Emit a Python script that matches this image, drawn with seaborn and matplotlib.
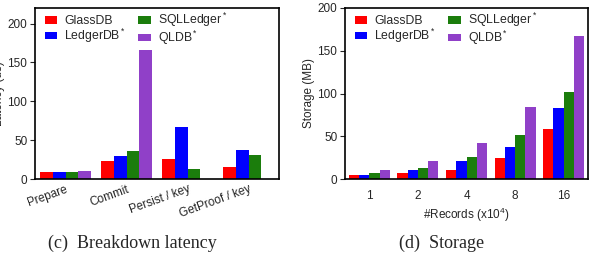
import numpy as np
import pandas as pd
import matplotlib
matplotlib.use("Agg")
import matplotlib.pyplot as plt
import seaborn as sns

# data
systems = ["GlassDB", "LedgerDB", "SQLLedger", "QLDB"]
legend_labels = ["GlassDB", r"LedgerDB$^*$", r"SQLLedger$^*$", r"QLDB$^*$"]
colors = ["#ff0000", "#0000ff", "#1b7d0c", "#9040c8"]

phases = ["Prepare", "Commit", "Persist / key", "GetProof / key"]
lat_glassdb = [8.9, 23.7, 25.8, 15.6]
lat_ledgerdb = [9.2, 30.0, 66.5, 37.0]
lat_sqlledger = [9.5, 36.0, 13.0, 30.5]
lat_qldb = [10.0, 166.0, np.nan, np.nan]

records = ["1", "2", "4", "8", "16"]
sto_glassdb = [4.6, 7.3, 10.7, 24.2, 58.9]
sto_ledgerdb = [4.6, 10.7, 21.0, 38.0, 82.7]
sto_sqlledger = [7.3, 13.0, 25.7, 51.0, 101.6]
sto_qldb = [10.7, 21.5, 42.3, 83.8, 167.4]


def long_frame(cats, series, catname, valname):
    rows = []
    for name, vals in zip(systems, series):
        for c, v in zip(cats, vals):
            rows.append({catname: c, "system": name, valname: v})
    return pd.DataFrame(rows)


lat_df = long_frame(phases, [lat_glassdb, lat_ledgerdb, lat_sqlledger, lat_qldb],
                    "phase", "latency")
sto_df = long_frame(records, [sto_glassdb, sto_ledgerdb, sto_sqlledger, sto_qldb],
                    "records", "storage")

sns.set_style("ticks")
plt.rcParams["font.family"] = ["Liberation Sans", "DejaVu Sans"]
plt.rcParams["mathtext.fontset"] = "custom"
plt.rcParams["mathtext.rm"] = "Liberation Sans"
plt.rcParams["mathtext.it"] = "Liberation Sans"
plt.rcParams["font.size"] = 8.5

W, H = 594, 258
fig = plt.figure(figsize=(W / 100, H / 100), dpi=100)
ax1 = fig.add_axes([35 / W, 1 - 179 / H, 244 / W, 171 / H])
ax2 = fig.add_axes([345 / W, 1 - 179 / H, 243 / W, 171 / H])

palette = dict(zip(systems, colors))

sns.barplot(data=lat_df, x="phase", y="latency", hue="system", hue_order=systems,
            palette=palette, width=0.82, linewidth=0, saturation=1, ax=ax1)
sns.barplot(data=sto_df, x="records", y="storage", hue="system", hue_order=systems,
            palette=palette, width=0.84, linewidth=0, saturation=1, ax=ax2)

for ax in (ax1, ax2):
    for s in ax.spines.values():
        s.set_visible(True)
        s.set_linewidth(1.2)
        s.set_color("black")
    ax.tick_params(axis="y", length=3.5, width=0.8, pad=2, labelsize=8.5)
    ax.set_xlim(-0.5, ax.get_xticks()[-1] + 0.5)
    handles, _ = ax.get_legend_handles_labels()
    ax.legend(handles, legend_labels, ncol=2, frameon=False, loc="upper left",
              bbox_to_anchor=(0.035, 0.99), fontsize=8.8, handlelength=1.0,
              handleheight=0.6, handletextpad=0.6, columnspacing=1.0,
              labelspacing=-0.05, borderaxespad=0.0, borderpad=0.1)

ax1.set_ylim(0, 220)
ax1.set_yticks([0, 50, 100, 150, 200])
ax1.set_xlabel("")
ax1.set_ylabel("Latency (us)", fontsize=8.5, labelpad=2)
ax1.tick_params(axis="x", length=0, pad=3, labelsize=8.5)
for lab in ax1.get_xticklabels():
    lab.set_rotation(20)
    lab.set_ha("right")
    lab.set_rotation_mode("anchor")

ax2.set_ylim(0, 200)
ax2.set_yticks([0, 50, 100, 150, 200])
ax2.set_ylabel("Storage (MB)", fontsize=8.5, labelpad=2)
ax2.set_xlabel(r"#Records (x10$^4$)", fontsize=8.5, labelpad=3)
ax2.tick_params(axis="x", length=0, pad=8, labelsize=8.5)

fig.text(132 / W, 1 - 243 / H, "(c)  Breakdown latency", ha="center", va="center",
         family=["Liberation Serif", "DejaVu Serif"], fontsize=13)
fig.text(442 / W, 1 - 243 / H, "(d)  Storage", ha="center", va="center",
         family=["Liberation Serif", "DejaVu Serif"], fontsize=13)

fig.savefig("out.png", dpi=100)
